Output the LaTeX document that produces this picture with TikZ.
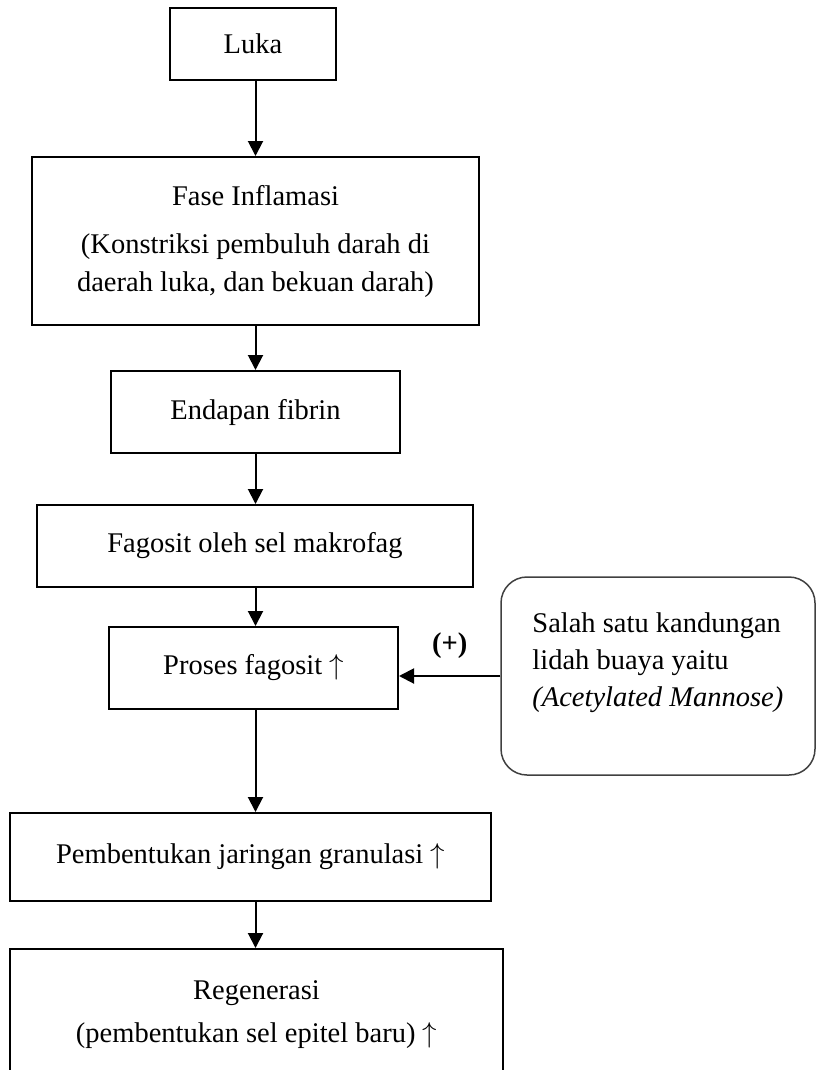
\documentclass[tikz,border=0pt]{standalone}
\usepackage{fontspec}
\setmainfont{Liberation Serif}
\usetikzlibrary{arrows.meta,calc,positioning}

\newcommand{\naik}{\ $\uparrow$}

\begin{document}
\begin{tikzpicture}[
  x=0.5pt, y=-0.5pt,
  font=\fontsize{14.25}{19}\selectfont,
  >={Triangle[length=7.5pt,width=7.5pt]},
  stage/.style={draw=black, line width=1pt, align=center, inner sep=0pt},
  aloebox/.style={draw=black!75, line width=0.75pt, rounded corners=13pt, inner sep=0pt},
  link/.style={->, black, line width=1pt}
]

% Canvas: same proportions as the page.
\useasboundingbox (0,0) rectangle (816,1070);
\coordinate (spine) at (255.5,0);

% --------------------------------------------------------------------------
% Main chain of wound healing stages.
% --------------------------------------------------------------------------
\node[stage, minimum width=83pt, minimum height=36pt] (luka) at (253,44) {Luka};
\node[stage, minimum width=223.5pt, minimum height=84pt] (inflamasi) at (255.5,241)
  {Fase Inflamasi\\[5pt](Konstriksi pembuluh darah di\\daerah luka, dan bekuan darah)};
\node[stage, minimum width=144.5pt, minimum height=41pt] (fibrin) at (255.5,412) {Endapan fibrin};
\node[stage, minimum width=218pt, minimum height=41pt] (makrofag) at (255,546) {Fagosit oleh sel makrofag};
\node[stage, minimum width=144.5pt, minimum height=41pt] (fagosit) at (253.5,668) {Proses fagosit\naik};
\node[stage, minimum width=240.5pt, minimum height=44pt] (granulasi) at (250.5,857)
  {Pembentukan jaringan granulasi\naik};
\node[stage, minimum width=246.5pt, minimum height=65.5pt] (regenerasi) at (256.5,1014.5)
  {Regenerasi\\[2.5pt](pembentukan sel epitel baru)\naik};

% Downward links along one spine.
\draw[link] (luka.south -| spine) -- (inflamasi.north -| spine);
\draw[link] (inflamasi.south -| spine) -- (fibrin.north -| spine);
\draw[link] (fibrin.south -| spine) -- (makrofag.north -| spine);
\draw[link] (makrofag.south -| spine) -- (fagosit.north -| spine);
\draw[link] (fagosit.south -| spine) -- (granulasi.north -| spine);
\draw[link] (granulasi.south -| spine) -- (regenerasi.north -| spine);

% --------------------------------------------------------------------------
% Aloe vera side input.
% --------------------------------------------------------------------------
\node[aloebox, minimum width=157pt, minimum height=99pt] (aloe) at (658,676) {};
\node[anchor=north west, align=left, inner sep=0pt, font=\fontsize{14.25}{18.5}\selectfont]
  (aloetext) at (532,612)
  {Salah satu kandungan\\lidah buaya yaitu\\\textit{(Acetylated Mannose)}};

\draw[link] (aloe.west) -- (aloe.west -| fagosit.east)
  node[midway, yshift=15pt] (plus) {\textbf{(+)}};

\end{tikzpicture}
\end{document}
